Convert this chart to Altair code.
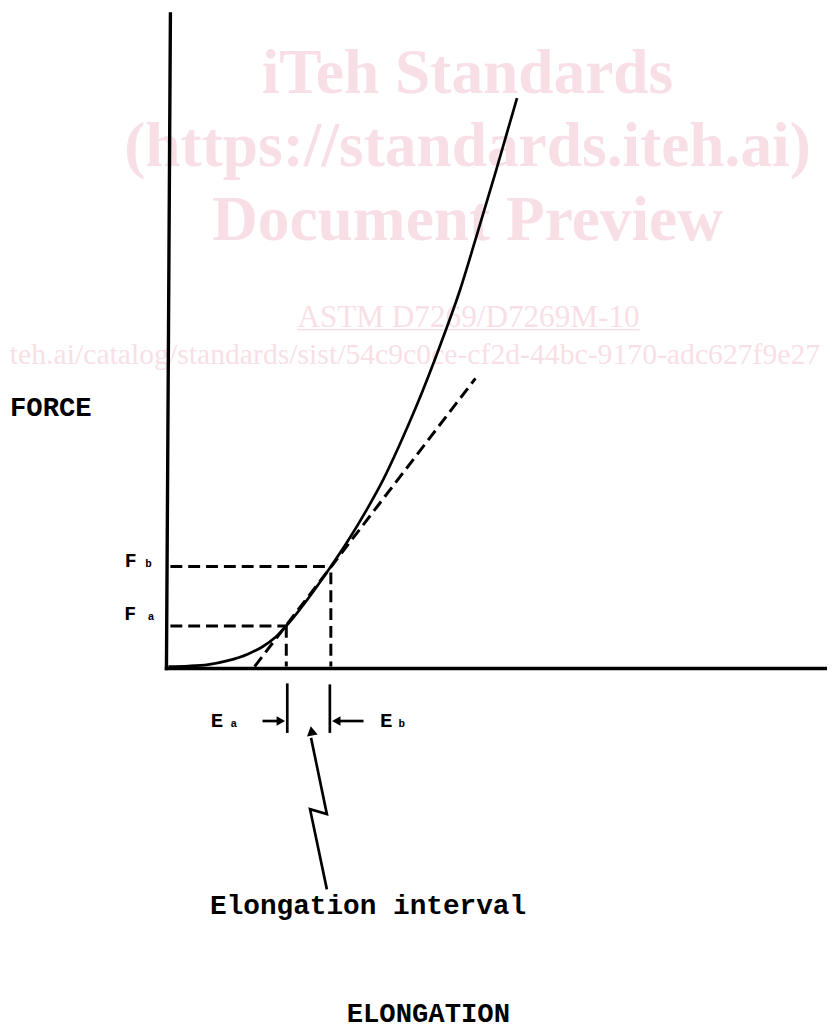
import altair as alt
import pandas as pd

# ---------------- data (elongation units, force units) ----------------
curve_elong = [0, 2, 4, 6, 8, 9.5, 10.8, 11.9, 13, 14.5, 16.4, 18, 20, 21.7, 23.3, 25, 27.5, 29.5, 31, 33, 35.2]
curve_force = [0.2, 0.25, 0.4, 0.8, 1.45, 2.2, 3.15, 4.3, 5.62, 7.6, 10.3, 12.7, 16.0, 19.1, 22.5, 26.4, 32.8, 38.4, 43.3, 50.0, 57.6]

E_A, E_B = 11.9, 16.4
F_A, F_B = 4.3, 10.3

axis_x = [-0.2, -0.2]
axis_y = [0, 0]
axis_x2 = [0.2, 66.5]
axis_y2 = [66.1, 0]

dash_x = [8.7, 0.2, E_A, 0.2, E_B]
dash_y = [0.2, F_A, F_A, F_B, 9.7]
dash_x2 = [31.0, E_A, E_A, E_B, E_B]
dash_y2 = [29.3, F_A, 0.2, F_B, 0.2]

ext_x = [12.0, 16.3]
ext_y = [-1.5, -1.6]
ext_y2 = [-6.5, -6.5]

shaft_x = [9.5, 17.3]
shaft_x2 = [11.0, 19.7]
shaft_y = [-5.3, -5.3]

head_r_x, head_r_y = [11.35], [-5.3]
head_l_x, head_l_y = [16.95], [-5.3]

zig_x = [14.4, 16.0, 14.3, 16.0]
zig_y = [-7.0, -14.7, -14.2, -22.3]
zig_head_x, zig_head_y = [14.45], [-6.3]

f_text = ["F", "F"]
f_x = [-3.8, -3.85]
f_y = [10.3, 4.9]

e_text = ["E", "E"]
e_x = [4.9, 22.0]
e_y = [-5.9, -5.9]

sub_text = ["b", "a", "a", "b"]
sub_x = [-2.0, -1.75, 6.6, 23.55]
sub_y = [10.3, 4.9, -5.9, -5.9]

title_text = ["FORCE", "ELONGATION"]
title_x = [-16.0, 18.0]
title_y = [25.5, -35.7]

note_text = ["Elongation interval"]
note_x, note_y = [4.2], [-24.8]

wm_big_text = ["iTeh Standards", "(https://standards.iteh.ai)", "Document Preview"]
wm_big_x = [30.2, 30.2, 30.2]
wm_big_y = [58.1, 50.7, 43.3]

wm_astm_text = ["ASTM D7269/D7269M-10"]
wm_astm_x, wm_astm_y = [30.3], [34.5]
wm_ul_x, wm_ul_x2, wm_ul_y = [13.0], [47.6], [34.2]

wm_url_text = ["teh.ai/catalog/standards/sist/54c9c0ce-cf2d-44bc-9170-adc627f9e27"]
wm_url_x, wm_url_y = [24.9], [30.8]

# ---------------- scales ----------------
xs = alt.Scale(domain=[-16.2, 66.5], nice=False, zero=False)
ys = alt.Scale(domain=[-36.0, 66.2], nice=False, zero=False)

PINK = "#f8dfe6"
BLACK = "#000000"


def X(f="x"):
    return alt.X(f"{f}:Q", scale=xs, axis=None)


def Y(f="y"):
    return alt.Y(f"{f}:Q", scale=ys, axis=None)


def seg_layer(xa, ya, x2a, y2a, **mk):
    df = pd.DataFrame({"x": xa, "y": ya, "x2": x2a, "y2": y2a})
    return alt.Chart(df).mark_rule(**mk).encode(x=X(), y=Y(), x2="x2:Q", y2="y2:Q")


def text_layer(texts, xa, ya, **mk):
    df = pd.DataFrame({"t": texts, "x": xa, "y": ya})
    return alt.Chart(df).mark_text(**mk).encode(x=X(), y=Y(), text="t:N")


def point_layer(xa, ya, **mk):
    df = pd.DataFrame({"x": xa, "y": ya})
    return alt.Chart(df).mark_point(**mk).encode(x=X(), y=Y())


# watermark
wm_big = text_layer(wm_big_text, wm_big_x, wm_big_y, font="Liberation Serif", fontSize=64,
                    fontWeight="bold", color=PINK, align="center", baseline="alphabetic")
wm_astm = text_layer(wm_astm_text, wm_astm_x, wm_astm_y, font="Liberation Serif", fontSize=31.5,
                     color=PINK, align="center", baseline="alphabetic")
wm_ul = seg_layer(wm_ul_x, wm_ul_y, wm_ul_x2, wm_ul_y, color=PINK, strokeWidth=1.5)
wm_url = text_layer(wm_url_text, wm_url_x, wm_url_y, font="Liberation Serif", fontSize=30,
                    color=PINK, align="center", baseline="alphabetic")

# axes
axes = seg_layer(axis_x, axis_y, axis_x2, axis_y2, color=BLACK, strokeWidth=3.4, strokeCap="square")

# curve
curve_df = pd.DataFrame({"x": curve_elong, "y": curve_force, "o": list(range(len(curve_elong)))})
curve = alt.Chart(curve_df).mark_line(color=BLACK, strokeWidth=2.7, interpolate="monotone").encode(
    x=X(), y=Y(), order="o:Q")

# dashed
dashed = seg_layer(dash_x, dash_y, dash_x2, dash_y2, color=BLACK, strokeWidth=3, strokeDash=[12, 6])

# extension ticks and arrows
ext = seg_layer(ext_x, ext_y, ext_x, ext_y2, color=BLACK, strokeWidth=2.7)
shafts = seg_layer(shaft_x, shaft_y, shaft_x2, shaft_y, color=BLACK, strokeWidth=2.7)
head_r = point_layer(head_r_x, head_r_y, shape="triangle-right", filled=True, color=BLACK, size=95, opacity=1)
head_l = point_layer(head_l_x, head_l_y, shape="triangle-left", filled=True, color=BLACK, size=95, opacity=1)

zig_df = pd.DataFrame({"x": zig_x, "y": zig_y, "o": list(range(len(zig_x)))})
zig = alt.Chart(zig_df).mark_line(color=BLACK, strokeWidth=2.7).encode(x=X(), y=Y(), order="o:Q")
zig_head = point_layer(zig_head_x, zig_head_y, shape="triangle-up", filled=True, color=BLACK,
                       size=120, angle=350, opacity=1)

# labels
f_lab = text_layer(f_text, f_x, f_y, font="Liberation Mono", fontSize=20, fontWeight="bold",
                   color=BLACK, align="center", baseline="alphabetic")
e_lab = text_layer(e_text, e_x, e_y, font="Liberation Mono", fontSize=21, fontWeight="bold",
                   color=BLACK, align="center", baseline="alphabetic")
sub_lab = text_layer(sub_text, sub_x, sub_y, font="Liberation Mono", fontSize=11, fontWeight="bold",
                     color=BLACK, align="center", baseline="alphabetic")
titles = text_layer(title_text, title_x, title_y, font="Liberation Mono", fontSize=27.5, fontWeight="bold",
                    color=BLACK, align="left", baseline="alphabetic")
note = text_layer(note_text, note_x, note_y, font="Liberation Mono", fontSize=28, fontWeight="bold",
                  color=BLACK, align="left", baseline="alphabetic")

chart = alt.layer(
    wm_big, wm_astm, wm_ul, wm_url,
    axes, dashed, curve, ext, shafts, head_r, head_l, zig, zig_head,
    f_lab, e_lab, sub_lab, titles, note,
).properties(
    width=827, height=1022, padding=0,
    autosize=alt.AutoSizeParams(type="none"),
    background="white",
).configure_view(strokeWidth=0)

chart.save("out.html", embed_options={"renderer": "svg", "actions": False})
